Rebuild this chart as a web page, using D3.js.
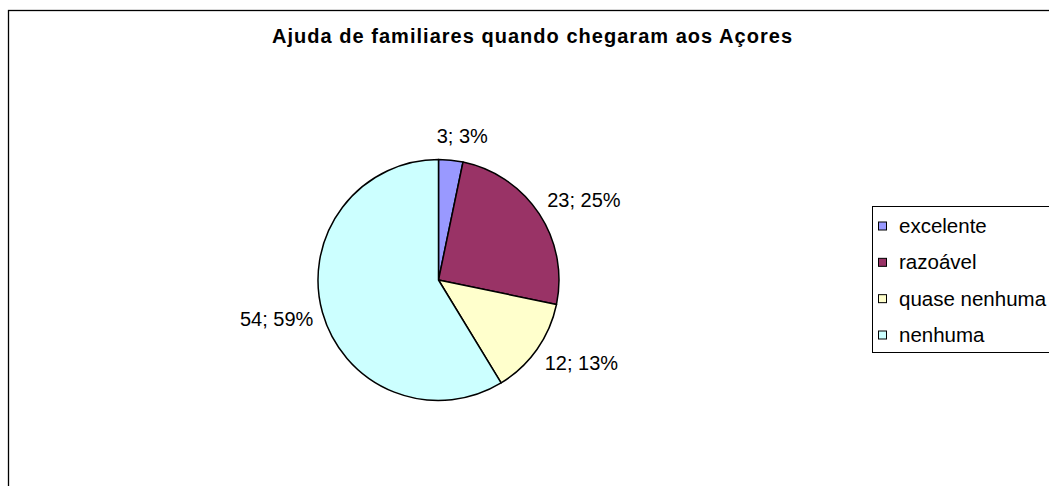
<!DOCTYPE html>
<html>
<head>
<meta charset="utf-8">
<script src="https://cdn.jsdelivr.net/npm/d3@7"></script>
<style>
  body { margin: 0; background: #fff; }
  text { font-family: Arial, "Liberation Sans", sans-serif; fill: #000; }
</style>
</head>
<body>
<svg id="chart" width="1049" height="486"></svg>
<script>
var title = "Ajuda de familiares quando chegaram aos Açores";
var categories = ["excelente", "razoável", "quase nenhuma", "nenhuma"];
var values = [3, 23, 12, 54];
var colors = ["#9999FF", "#993366", "#FFFFCC", "#CCFFFF"];

var svg = d3.select("#chart"),
    cx = 438.5, cy = 280, r = 120.5,
    labelR = 130;

// chart frame (runs off the right and bottom of the picture)
svg.append("rect")
  .attr("x", 8.5).attr("y", 10.5)
  .attr("width", 1100).attr("height", 600)
  .style("fill", "#fff").style("stroke", "#000").style("stroke-width", 1.3);

svg.append("text")
  .attr("x", 532).attr("y", 42.5)
  .attr("text-anchor", "middle")
  .attr("textLength", 520).attr("lengthAdjust", "spacing")
  .style("font-size", "20px").style("font-weight", "bold")
  .text(title);

var total = d3.sum(values);
var pie = d3.pie().sort(null).value(function(d) { return d; });
var arc = d3.arc().innerRadius(0).outerRadius(r);
var arcs = pie(values);

var g = svg.append("g").attr("transform", "translate(" + cx + "," + cy + ")");

g.selectAll("path.slice")
    .data(arcs)
  .enter().append("path")
    .attr("class", "slice")
    .attr("d", arc)
    .style("fill", function(d, i) { return colors[i]; })
    .style("stroke", "#000").style("stroke-width", 1.5)
    .style("stroke-linejoin", "round");

// labels "value; pct%" placed outside the pie, box pushed away from the edge
g.selectAll("text.lbl")
    .data(arcs)
  .enter().append("text")
    .attr("class", "lbl")
    .style("font-size", "20px")
    .attr("text-anchor", "middle")
    .text(function(d) { return d.value + "; " + Math.round(100 * d.value / total) + "%"; })
    .each(function(d) {
      var a = (d.startAngle + d.endAngle) / 2,
          s = Math.sin(a), c = Math.cos(a),
          w = this.getComputedTextLength(),
          px = labelR * s, py = -labelR * c,
          k = Math.max(-1, Math.min(1, 4 * s));
      d3.select(this)
        .attr("x", px + w / 2 * k)
        .attr("y", py + 6.7 - 14.5 * c);
    });

// legend
var lg = svg.append("g").attr("transform", "translate(872.5,206.5)");
lg.append("rect")
  .attr("width", 300).attr("height", 146)
  .style("fill", "#fff").style("stroke", "#000").style("stroke-width", 1);

var rowY = d3.scalePoint().domain(categories).range([19.5, 128.5]);

var item = lg.selectAll("g.item")
    .data(categories)
  .enter().append("g")
    .attr("class", "item")
    .attr("transform", function(d) { return "translate(0," + rowY(d) + ")"; });

item.append("rect")
  .attr("x", 6).attr("y", -4)
  .attr("width", 8).attr("height", 8)
  .style("fill", function(d, i) { return colors[i]; })
  .style("stroke", "#000").style("stroke-width", 1);

item.append("text")
  .attr("x", 26.5).attr("y", 7)
  .style("font-size", "20.5px")
  .text(function(d) { return d; });
</script>
</body>
</html>
